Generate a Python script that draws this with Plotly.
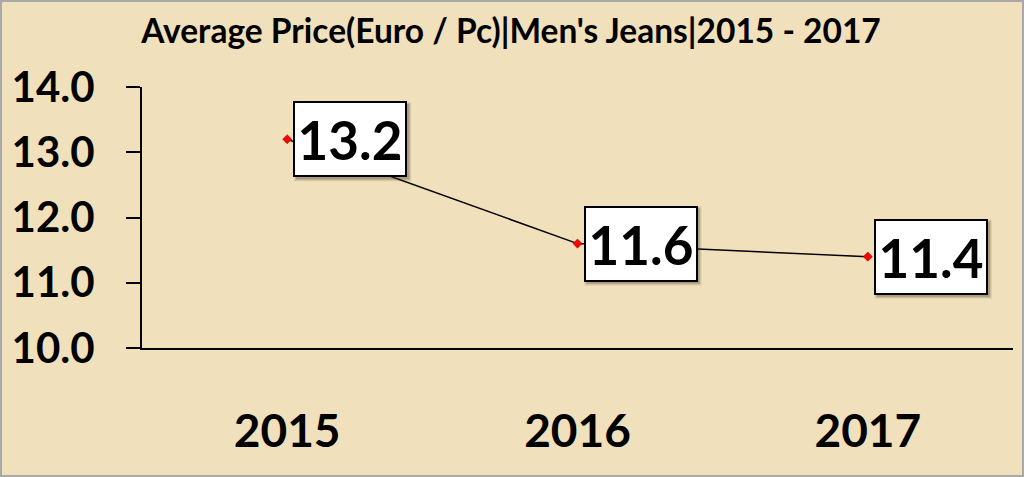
import plotly.graph_objects as go

years = ["2015", "2016", "2017"]
avg_price = [13.2, 11.6, 11.4]
label_text = ["13.2", "11.6", "11.4"]
y_ticks = [10, 11, 12, 13, 14]

FONT = "Lato"
BG = "#F0E0BC"

fig = go.Figure()
fig.add_trace(go.Scatter(
    x=years, y=avg_price, mode="lines+markers",
    line=dict(color="black", width=1.5),
    marker=dict(symbol="diamond", size=7, color="#FF0000",
                line=dict(color="#A00000", width=0.5)),
    hoverinfo="skip", showlegend=False,
))

annotations = []
shapes = []
for i, (yv, t) in enumerate(zip(avg_price, label_text)):
    # soft shadow behind the label box
    for k, a in enumerate([0.10, 0.15, 0.20]):
        shapes.append(dict(
            type="rect", xref="x", yref="y", xsizemode="pixel", ysizemode="pixel",
            xanchor=i, yanchor=yv,
            x0=6 + 1 + k, x1=6 + 114 + 4 - k, y0=38 - 1 - k, y1=-38 - 4 + k,
            line=dict(width=0), fillcolor=f"rgba(60,50,30,{a})", layer="above",
        ))
    annotations.append(dict(
        x=i, y=yv, xref="x", yref="y", text=t, showarrow=False,
        xanchor="left", yanchor="middle", xshift=6,
        width=106, height=68, borderpad=2, borderwidth=2,
        bordercolor="black", bgcolor="white", align="center", valign="middle",
        font=dict(family=FONT, size=53, color="black", weight="bold"),
    ))

shapes.append(dict(type="rect", xref="paper", yref="paper",
                   x0=-141 / 871, x1=1 + 10 / 871, y0=-128 / 261, y1=1 + 86 / 261,
                   line=dict(color="#A8A8A8", width=2), fillcolor="rgba(0,0,0,0)"))

fig.update_layout(
    width=1024, height=477,
    paper_bgcolor=BG, plot_bgcolor=BG,
    margin=dict(l=142, r=11, t=87, b=129),
    title=dict(text="Average Price(Euro / Pc)|Men's Jeans|2015 - 2017",
               x=511 / 1024, xanchor="center", xref="container",
               y=1 - 31 / 477, yanchor="middle", yref="container",
               font=dict(family=FONT, size=33.5, color="black", weight="bold")),
    xaxis=dict(type="category", categoryorder="array", categoryarray=years,
               range=[-0.5, 2.5], showgrid=False, zeroline=False, automargin=False,
               showline=True, linecolor="black", linewidth=2,
               ticks="", ticklabelstandoff=42,
               tickfont=dict(family=FONT, size=46, color="black", weight="bold")),
    yaxis=dict(range=[10, 14], tickvals=y_ticks, tickformat=".1f",
               showgrid=False, zeroline=False, automargin=False,
               showline=True, linecolor="black", linewidth=2,
               ticks="outside", ticklen=14, tickwidth=2, tickcolor="black",
               ticklabelstandoff=23,
               tickfont=dict(family=FONT, size=42, color="black", weight="bold")),
    annotations=annotations,
    shapes=shapes,
)

fig.write_html(
    "out.html",
    config={"displayModeBar": False},
    post_script="document.body.style.margin='0';document.body.style.overflow='hidden';",
)
